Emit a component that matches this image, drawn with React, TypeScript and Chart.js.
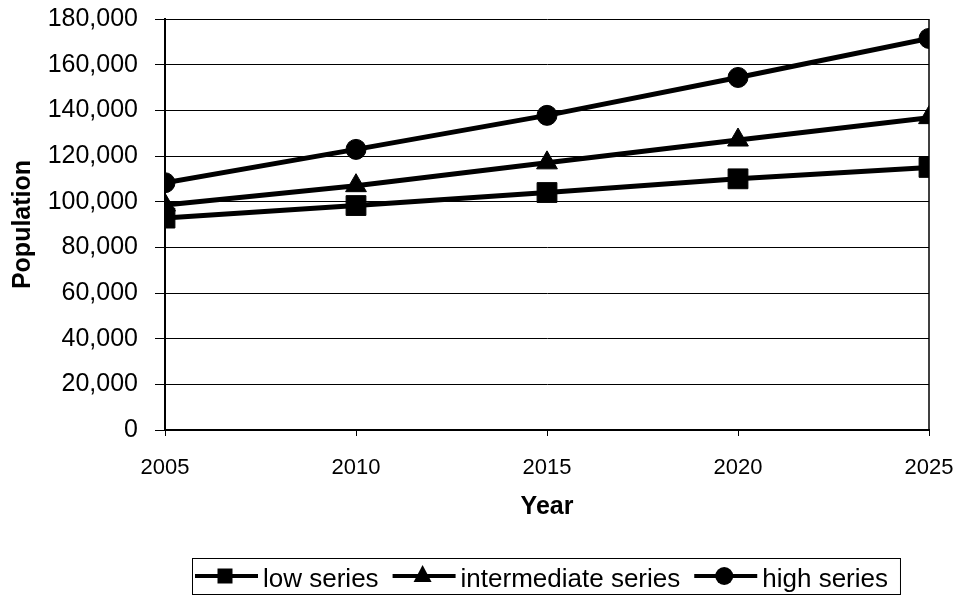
import React, { useEffect, useRef } from "react";
import { Chart, registerables } from "chart.js";

Chart.register(...registerables);

const years = [2005, 2010, 2015, 2020, 2025];
const lowSeries = [92800, 98300, 104000, 110000, 115000];
const intermediateSeries = [98500, 107000, 117000, 127000, 136800];
const highSeries = [108300, 122900, 137800, 154400, 171500];
const seriesNames = ["low series", "intermediate series", "high series"];
const pointStyles = ["rect", "triangle", "circle"];
const pointRadii = [14, 12, 10];
const xAxisTitle = "Year";
const yAxisTitle = "Population";

const FONT = '"Liberation Sans", Arial, Helvetica, sans-serif';

function drawMarker(ctx: CanvasRenderingContext2D, style: string, x: number, y: number) {
  ctx.beginPath();
  if (style === "rect") {
    const s = 15;
    ctx.rect(x - s / 2, y - s / 2, s, s);
  } else if (style === "triangle") {
    ctx.moveTo(x, y - 11);
    ctx.lineTo(x + 9, y + 6);
    ctx.lineTo(x - 9, y + 6);
    ctx.closePath();
  } else {
    ctx.arc(x, y, 9, 0, Math.PI * 2);
  }
  ctx.fill();
}

const framePlugin = {
  id: "frame",
  beforeDatasetsDraw(chart: any) {
    const { ctx, chartArea } = chart;
    ctx.save();
    ctx.strokeStyle = "#000";
    ctx.lineWidth = 1.5;
    ctx.beginPath();
    ctx.moveTo(chartArea.right, chartArea.top);
    ctx.lineTo(chartArea.right, chartArea.bottom);
    ctx.stroke();
    ctx.restore();
  },
};

const legendPlugin = {
  id: "customLegend",
  afterDraw(chart: any) {
    const ctx: CanvasRenderingContext2D = chart.ctx;
    ctx.save();
    ctx.font = `26px ${FONT}`;
    ctx.fillStyle = "#000";
    ctx.strokeStyle = "#000";
    ctx.textBaseline = "alphabetic";
    const boxLeft = 192;
    const cy = 576;
    let x = boxLeft + 3;
    seriesNames.forEach((name, i) => {
      ctx.lineWidth = 4;
      ctx.beginPath();
      ctx.moveTo(x, cy);
      ctx.lineTo(x + 63, cy);
      ctx.stroke();
      drawMarker(ctx, pointStyles[i], x + 30, cy);
      const w = ctx.measureText(name).width;
      ctx.fillText(name, x + 68, 587);
      x += 68 + w + (i < seriesNames.length - 1 ? 14 : 12);
    });
    ctx.lineWidth = 1;
    ctx.strokeRect(boxLeft + 0.5, 558.5, x - boxLeft, 36);
    ctx.restore();
  },
};

export default function App() {
  const ref = useRef<HTMLCanvasElement>(null);

  useEffect(() => {
    if (!ref.current) return;
    const all = [lowSeries, intermediateSeries, highSeries];
    const chart = new Chart(ref.current, {
      type: "line",
      data: {
        datasets: all.map((vals, i) => ({
          label: seriesNames[i],
          data: years.map((yr, j) => ({ x: yr, y: vals[j] })),
          borderColor: "#000",
          backgroundColor: "#000",
          borderWidth: 5,
          pointStyle: pointStyles[i] as any,
          pointRadius: pointRadii[i],
          pointBackgroundColor: "#000",
          pointBorderColor: "#000",
          pointBorderWidth: 1,
          tension: 0,
          fill: false,
        })),
      },
      options: {
        animation: false,
        responsive: false,
        maintainAspectRatio: false,
        layout: { padding: { top: 19, right: 32, left: 0, bottom: 0 } },
        plugins: {
          legend: { display: false },
          tooltip: { enabled: false },
        },
        scales: {
          x: {
            type: "linear",
            min: 2005,
            max: 2025,
            ticks: {
              stepSize: 5,
              callback: (v: any) => String(v),
              font: { family: FONT, size: 22 },
              color: "#000",
              padding: 19,
              maxRotation: 0,
            },
            grid: { drawOnChartArea: false, color: "#000", tickLength: 6, lineWidth: 1 },
            border: { color: "#000", width: 2 },
            title: {
              display: true,
              text: xAxisTitle,
              font: { family: FONT, size: 25, weight: "bold" },
              color: "#000",
              padding: { top: 0, bottom: 73 },
            },
            afterFit: (s: any) => {
              s.height = 165;
              s.paddingLeft = 0;
              s.paddingRight = 0;
            },
          },
          y: {
            min: 0,
            max: 180000,
            ticks: {
              stepSize: 20000,
              callback: (v: any) => Number(v).toLocaleString("en-US"),
              font: { family: FONT, size: 25 },
              color: "#000",
              padding: 17,
            },
            grid: { color: "#000", lineWidth: 1, tickLength: 10 },
            border: { color: "#000", width: 2 },
            title: {
              display: true,
              text: yAxisTitle,
              font: { family: FONT, size: 25, weight: "bold" },
              color: "#000",
              padding: { top: 8, bottom: 0 },
            },
            afterFit: (s: any) => {
              s.width = 165;
              s.paddingTop = 0;
              s.paddingBottom = 0;
            },
          },
        },
      },
      plugins: [framePlugin, legendPlugin],
    });
    return () => chart.destroy();
  }, []);

  return (
    <div style={{ position: "absolute", left: 0, top: 0, width: 961, height: 595, background: "#fff" }}>
      <canvas ref={ref} width={961} height={595} style={{ display: "block" }} />
    </div>
  );
}
